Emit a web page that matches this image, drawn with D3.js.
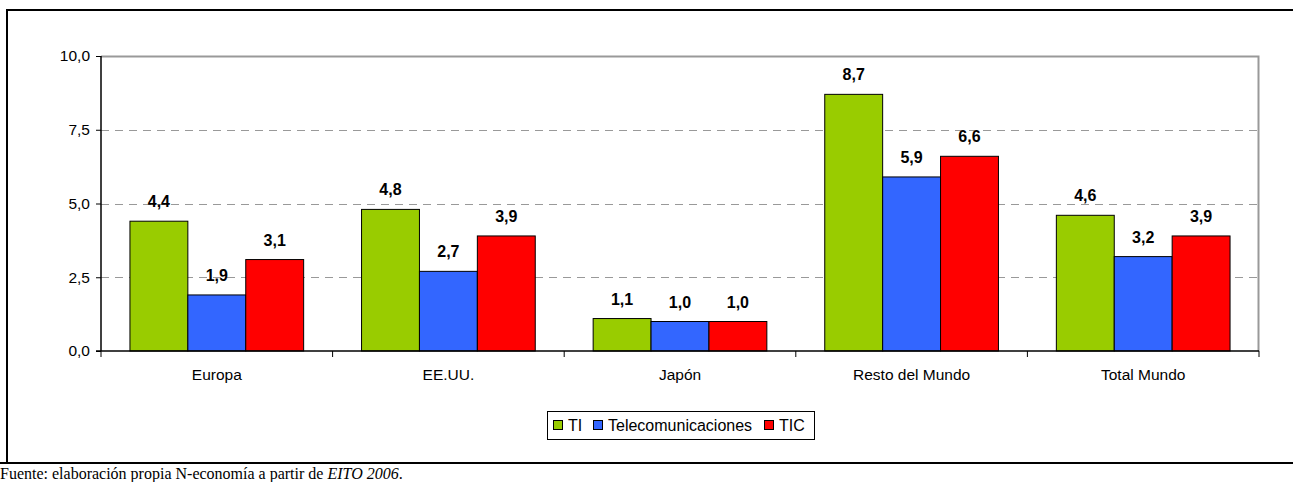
<!DOCTYPE html>
<html lang="es">
<head>
	<meta charset="UTF-8">
	<script src="https://d3js.org/d3.v7.min.js"></script>
	<style>
		body { margin: 0; background: #fff; }
		.bar-label { font: bold 16px "Liberation Sans", Arial, sans-serif; fill: #000; }
		.tick text { font: 15.5px "Liberation Sans", Arial, sans-serif; fill: #000; }
		.legend-text { font: 16px "Liberation Sans", Arial, sans-serif; fill: #000; }
		.source { font: 16px "Liberation Serif", "Times New Roman", serif; fill: #000; }
	</style>
</head>
<body>
<script>
	const regions = ["Europa", "EE.UU.", "Japón", "Resto del Mundo", "Total Mundo"];
	const seriesNames = ["TI", "Telecomunicaciones", "TIC"];
	const valTI = [4.4, 4.8, 1.1, 8.7, 4.6];
	const valTelecom = [1.9, 2.7, 1.0, 5.9, 3.2];
	const valTIC = [3.1, 3.9, 1.0, 6.6, 3.9];
	const yTicks = [0, 2.5, 5, 7.5, 10];
	const colors = ["#99CC00", "#3366FF", "#FF0000"];

	const width = 1293, height = 482;
	const plot = {left: 101, right: 1259, top: 56, bottom: 351};

	const svg = d3.select("body").append("svg")
		.attr("width", width)
		.attr("height", height);

	// marco exterior
	svg.append("line").attr("x1", 6).attr("x2", width).attr("y1", 10).attr("y2", 10)
		.attr("stroke", "#000").attr("stroke-width", 2);
	svg.append("line").attr("x1", 7).attr("x2", 7).attr("y1", 10).attr("y2", 463)
		.attr("stroke", "#000").attr("stroke-width", 2);
	svg.append("line").attr("x1", 0).attr("x2", width).attr("y1", 463).attr("y2", 463)
		.attr("stroke", "#000").attr("stroke-width", 2);

	const x0 = d3.scaleBand()
		.domain(regions)
		.range([plot.left, plot.right])
		.padding(0);
	// grupo = 3/4 del ancho de la categoría, hueco = 1/8 a cada lado
	const x1 = d3.scaleBand()
		.domain(seriesNames)
		.range([x0.bandwidth() / 8, x0.bandwidth() * 7 / 8])
		.padding(0);

	const y = d3.scaleLinear()
		.domain([0, 10])
		.range([plot.bottom, plot.top]);

	// líneas de división
	svg.append("g").selectAll("line")
		.data(yTicks.filter(d => d > 0 && d < 10))
		.join("line")
		.attr("x1", plot.left).attr("x2", plot.right)
		.attr("y1", d => Math.round(y(d)) + 0.5).attr("y2", d => Math.round(y(d)) + 0.5)
		.attr("stroke", "#999")
		.attr("stroke-dasharray", "8,6");

	// borde del área
	svg.append("path")
		.attr("d", `M${plot.left},${plot.top + 0.5}H${plot.right - 0.5}V${plot.bottom}`)
		.attr("fill", "none").attr("stroke", "#999").attr("stroke-width", 2);

	const data = regions.map((r, i) => ({
		region: r,
		values: [valTI[i], valTelecom[i], valTIC[i]]
	}));

	const groups = svg.append("g").selectAll("g")
		.data(data)
		.join("g")
		.attr("transform", d => `translate(${x0(d.region)},0)`);

	groups.selectAll("rect")
		.data(d => d.values.map((v, j) => ({name: seriesNames[j], value: v, c: colors[j]})))
		.join("rect")
		.attr("x", d => x1(d.name))
		.attr("y", d => y(d.value))
		.attr("width", x1.bandwidth())
		.attr("height", d => y(0) - y(d.value))
		.attr("fill", d => d.c)
		.attr("stroke", "#000")
		.attr("stroke-width", 1);

	groups.selectAll("text")
		.data(d => d.values.map((v, j) => ({name: seriesNames[j], value: v})))
		.join("text")
		.attr("class", "bar-label")
		.attr("x", d => x1(d.name) + x1.bandwidth() / 2)
		.attr("y", d => y(d.value) - 14)
		.attr("text-anchor", "middle")
		.text(d => d3.format(".1f")(d.value).replace(".", ","));

	// eje Y
	const yAxis = svg.append("g")
		.attr("transform", `translate(${plot.left},0)`)
		.call(d3.axisLeft(y).tickValues(yTicks).tickSize(5).tickPadding(6)
			.tickFormat(d => d3.format(".1f")(d).replace(".", ",")));
	yAxis.select(".domain").attr("stroke", "#000").attr("stroke-width", 1.5)
		.attr("d", `M0,${plot.top}V${plot.bottom}`);
	yAxis.selectAll(".tick line").attr("stroke", "#000");

	// eje X
	const xAxis = svg.append("g")
		.attr("transform", `translate(0,${plot.bottom})`)
		.call(d3.axisBottom(x0).tickSize(0).tickPadding(18));
	xAxis.select(".domain").attr("stroke", "#000").attr("stroke-width", 1.5)
		.attr("d", `M${plot.left - 5},0H${plot.right}`);
	xAxis.selectAll(".tick-sep")
		.data(regions.concat(["_end"]))
		.join("line")
		.attr("class", "tick-sep")
		.attr("x1", (d, i) => i < regions.length ? x0(d) : plot.right)
		.attr("x2", (d, i) => i < regions.length ? x0(d) : plot.right)
		.attr("y1", 0).attr("y2", 6)
		.attr("stroke", "#000");

	// leyenda
	const legend = svg.append("g").attr("transform", "translate(547,411)");
	legend.append("rect")
		.attr("x", 0.5).attr("y", 0.5).attr("width", 267).attr("height", 28)
		.attr("fill", "#fff").attr("stroke", "#000");
	const legendX = [6, 46, 217];
	const items = legend.selectAll("g.item")
		.data(seriesNames)
		.join("g")
		.attr("class", "item")
		.attr("transform", (d, i) => `translate(${legendX[i]},0)`);
	items.append("rect")
		.attr("x", 0.5).attr("y", 9.5).attr("width", 9).attr("height", 9)
		.attr("fill", (d, i) => colors[i]).attr("stroke", "#000");
	items.append("text")
		.attr("class", "legend-text")
		.attr("x", 15).attr("y", 20)
		.text(d => d);

	// fuente
	const src = svg.append("text").attr("class", "source").attr("x", 0).attr("y", 479);
	src.append("tspan").text("Fuente: elaboración propia N-economía a partir de ");
	src.append("tspan").attr("font-style", "italic").text("EITO 2006");
	src.append("tspan").text(".");
</script>
</body>
</html>
